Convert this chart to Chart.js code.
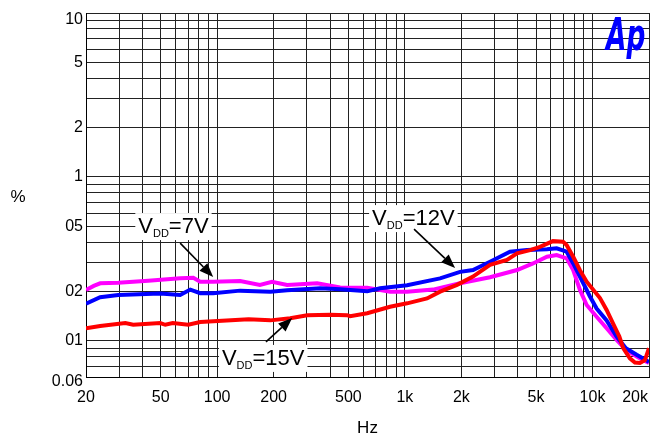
<!DOCTYPE html>
<html>
<head>
<meta charset="utf-8">
<script src="https://cdn.jsdelivr.net/npm/chart.js@4.4.1/dist/chart.umd.min.js"></script>
<style>
  html, body { margin: 0; padding: 0; background: #fff; }
  canvas { display: block; }
</style>
</head>
<body>
<canvas id="thdChart" width="659" height="437"></canvas>
<script>
// THD+N (%) vs frequency (Hz), three supply voltages
const freq7 = [20, 22, 23.8, 29.7, 42.9, 63.5, 74.6, 81.2, 95.2, 132.6, 169, 196, 236, 341, 452, 630, 834, 1028, 1413, 1968, 2844, 3963, 4820, 5720, 6440, 7278, 7890, 8570, 9310, 10520, 11890, 13440, 15060, 17180, 18620, 20000]
const thd7 = [0.204, 0.216, 0.224, 0.226, 0.232, 0.24, 0.242, 0.229, 0.229, 0.231, 0.219, 0.229, 0.219, 0.224, 0.211, 0.21, 0.199, 0.199, 0.205, 0.224, 0.244, 0.27, 0.296, 0.325, 0.333, 0.318, 0.27, 0.204, 0.165, 0.14, 0.119, 0.101, 0.088, 0.08, 0.076, 0.073]

const freq12 = [20, 23.8, 29.7, 49.7, 63.5, 71.9, 81.2, 95.2, 132.6, 192, 236, 354, 452, 630, 738, 1028, 1541, 1968, 2308, 2844, 3634, 4478, 5720, 6440, 7278, 7890, 8930, 9690, 10520, 11890, 13440, 15060, 17180, 19300, 20000]
const thd12 = [0.168, 0.184, 0.19, 0.194, 0.19, 0.205, 0.195, 0.195, 0.202, 0.199, 0.203, 0.209, 0.206, 0.2, 0.209, 0.218, 0.24, 0.263, 0.27, 0.303, 0.349, 0.357, 0.361, 0.366, 0.349, 0.296, 0.224, 0.186, 0.157, 0.133, 0.106, 0.09, 0.082, 0.076, 0.074]

const freq15 = [20, 23.8, 32.4, 35.7, 49.7, 52.9, 58, 70.1, 81.2, 147, 192, 245, 302, 400, 492, 511, 630, 834, 1028, 1313, 1541, 1898, 2308, 2844, 3500, 3963, 4645, 5250, 6153, 6958, 7278, 7890, 8570, 9310, 10960, 11890, 12840, 13900, 14580, 15820, 16830, 17900, 19020, 20000]
const thd15 = [0.119, 0.123, 0.128, 0.125, 0.128, 0.125, 0.128, 0.125, 0.13, 0.135, 0.133, 0.137, 0.143, 0.144, 0.143, 0.141, 0.147, 0.161, 0.169, 0.181, 0.199, 0.219, 0.246, 0.29, 0.311, 0.341, 0.357, 0.374, 0.405, 0.402, 0.383, 0.325, 0.269, 0.229, 0.182, 0.154, 0.128, 0.106, 0.09, 0.078, 0.0735, 0.073, 0.076, 0.09]

// ejes
const xGridValues = [20, 30, 40, 50, 60, 70, 80, 90, 100, 200, 300, 400, 500, 600, 700, 800, 900, 1000, 2000, 3000, 4000, 5000, 6000, 7000, 8000, 9000, 10000, 20000]
const xLabelValues = [20, 50, 100, 200, 500, 1000, 2000, 5000, 10000, 20000]
const xLabelTexts = ["20", "50", "100", "200", "500", "1k", "2k", "5k", "10k", "20k"]
const yGridValues = [0.06, 0.07, 0.08, 0.09, 0.1, 0.2, 0.3, 0.4, 0.5, 0.6, 0.7, 0.8, 0.9, 1, 2, 3, 4, 5, 6, 7, 8, 9, 10]
const yLabelValues = [0.06, 0.1, 0.2, 0.5, 1, 2, 5, 10]
const yLabelTexts = ["0.06", "01", "02", "05", "1", "2", "5", "10"]

// notas V_DD con flecha (coordenadas en Hz / %)
const noteTexts = ["=7V", "=12V", "=15V"]
const noteTextAt = [[38, 0.4536], [669, 0.5075], [106, 0.0711]]
const noteArrowFrom = [[63.5, 0.394], [1120, 0.48], [182, 0.0982]]
const noteArrowTo = [[95.2, 0.2445], [1852, 0.2776], [251, 0.1375]]

const FONT = "'Liberation Sans', Arial, sans-serif"

function labelFor(values, texts, v) {
  const i = values.findIndex((t) => Math.abs(t - v) / t < 1e-6)
  return i >= 0 ? texts[i] : ""
}

function toPoints(xs, ys) {
  return xs.map((x, i) => ({ x: x, y: ys[i] }))
}

// etiquetas de los extremos, desplazadas hacia dentro como en el original
const edgeLabels = [
  { axis: "x", value: 20000, text: "20k", align: "right", dx: -1, dy: 0 },
  { axis: "y", value: 10, text: "10", align: "right", dx: 0, dy: 7 },
  { axis: "y", value: 0.06, text: "0.06", align: "right", dx: 0, dy: 5 },
]

const overlayPlugin = {
  id: "overlay",
  afterDatasetsDraw(chart) {
    const { ctx, scales } = chart
    ctx.save()
    noteTexts.forEach((txt, i) => {
      const px = scales.x.getPixelForValue(noteTextAt[i][0])
      const py = scales.y.getPixelForValue(noteTextAt[i][1])
      ctx.font = "22px " + FONT
      const wV = ctx.measureText("V").width
      const wT = ctx.measureText(txt).width
      ctx.font = "11px " + FONT
      const wD = ctx.measureText("DD").width
      const total = wV + wD + wT
      ctx.fillStyle = "#fff"
      ctx.fillRect(px - 3, py - 20, total + 6, 27)

      ctx.fillStyle = "#000"
      ctx.textBaseline = "alphabetic"
      ctx.textAlign = "left"
      ctx.font = "22px " + FONT
      ctx.fillText("V", px, py)
      ctx.font = "11px " + FONT
      ctx.fillText("DD", px + wV, py + 4)
      ctx.font = "22px " + FONT
      ctx.fillText(txt, px + wV + wD, py)

      // flecha
      const x0 = scales.x.getPixelForValue(noteArrowFrom[i][0])
      const y0 = scales.y.getPixelForValue(noteArrowFrom[i][1])
      const x1 = scales.x.getPixelForValue(noteArrowTo[i][0])
      const y1 = scales.y.getPixelForValue(noteArrowTo[i][1])
      const ang = Math.atan2(y1 - y0, x1 - x0)
      const hl = 14
      const hw = 5.5
      ctx.strokeStyle = "#000"
      ctx.lineWidth = 1.6
      ctx.beginPath()
      ctx.moveTo(x0, y0)
      ctx.lineTo(x1 - hl * Math.cos(ang), y1 - hl * Math.sin(ang))
      ctx.stroke()
      ctx.beginPath()
      ctx.moveTo(x1, y1)
      ctx.lineTo(x1 - hl * Math.cos(ang) + hw * Math.sin(ang), y1 - hl * Math.sin(ang) - hw * Math.cos(ang))
      ctx.lineTo(x1 - hl * Math.cos(ang) - hw * Math.sin(ang), y1 - hl * Math.sin(ang) + hw * Math.cos(ang))
      ctx.closePath()
      ctx.fill()
    })
    ctx.restore()
  },
  afterDraw(chart) {
    const { ctx, chartArea, scales } = chart
    ctx.save()
    ctx.fillStyle = "#000"
    ctx.textBaseline = "middle"

    // unidades
    ctx.textAlign = "center"
    ctx.font = "17px " + FONT
    ctx.fillText("%", 18, (chartArea.top + chartArea.bottom) / 2 + 2)
    ctx.fillText("Hz", (chartArea.left + chartArea.right) / 2, 428)

    // etiquetas de los extremos
    ctx.font = "16px " + FONT
    edgeLabels.forEach((l) => {
      ctx.textAlign = l.align
      if (l.axis === "x") {
        ctx.fillText(l.text, scales.x.getPixelForValue(l.value) + l.dx, scales.x.top + 11 + 9.6 + l.dy)
      } else {
        ctx.fillText(l.text, scales.y.right - 3 + l.dx, scales.y.getPixelForValue(l.value) + l.dy)
      }
    })

    // logo Ap
    ctx.fillStyle = "#0000ff"
    ctx.textAlign = "left"
    ctx.textBaseline = "alphabetic"
    ctx.font = "bold oblique 44px 'DejaVu Sans', sans-serif"
    ctx.translate(chartArea.right - 43, chartArea.top + 37)
    ctx.scale(0.6, 1)
    ctx.fillText("Ap", 0, 0)
    ctx.restore()
  },
}

function isEdge(axis, value) {
  return edgeLabels.some((l) => l.axis === axis && Math.abs(l.value - value) / l.value < 1e-6)
}

const ctx = document.getElementById("thdChart").getContext("2d")

new Chart(ctx, {
  type: "line",
  data: {
    datasets: [
      {
        label: "VDD=15V",
        data: toPoints(freq15, thd15),
        borderColor: "#ff0000",
        borderWidth: 4,
        pointRadius: 0,
        fill: false,
      },
      {
        label: "VDD=12V",
        data: toPoints(freq12, thd12),
        borderColor: "#0000ff",
        borderWidth: 4,
        pointRadius: 0,
        fill: false,
      },
      {
        label: "VDD=7V",
        data: toPoints(freq7, thd7),
        borderColor: "#ff00ff",
        borderWidth: 4,
        pointRadius: 0,
        fill: false,
      },
    ],
  },
  options: {
    responsive: false,
    animation: false,
    devicePixelRatio: 1,
    layout: { padding: { top: 13, right: 10, left: 0, bottom: 0 } },
    plugins: {
      legend: { display: false },
      tooltip: { enabled: false },
    },
    scales: {
      x: {
        type: "logarithmic",
        min: 20,
        max: 20000,
        afterBuildTicks: (scale) => {
          scale.ticks = xGridValues.map((v) => ({ value: v }))
        },
        afterFit: (scale) => {
          scale.height = 60
          scale.paddingLeft = 0
          scale.paddingRight = 0
        },
        grid: { color: "#222", lineWidth: 1, drawTicks: false },
        border: { display: true, color: "#000" },
        ticks: {
          autoSkip: false,
          maxRotation: 0,
          padding: 11,
          color: "#000",
          font: { family: FONT, size: 16 },
          callback: (value) => (isEdge("x", value) ? "" : labelFor(xLabelValues, xLabelTexts, value)),
        },
      },
      y: {
        type: "logarithmic",
        min: 0.06,
        max: 10,
        afterBuildTicks: (scale) => {
          scale.ticks = yGridValues.map((v) => ({ value: v }))
        },
        afterFit: (scale) => {
          scale.width = 86
        },
        grid: { color: "#222", lineWidth: 1, drawTicks: false },
        border: { display: true, color: "#000" },
        ticks: {
          autoSkip: false,
          padding: 3,
          color: "#000",
          font: { family: FONT, size: 16 },
          callback: (value) => (isEdge("y", value) ? "" : labelFor(yLabelValues, yLabelTexts, value)),
        },
      },
    },
  },
  plugins: [overlayPlugin],
})
</script>
</body>
</html>
